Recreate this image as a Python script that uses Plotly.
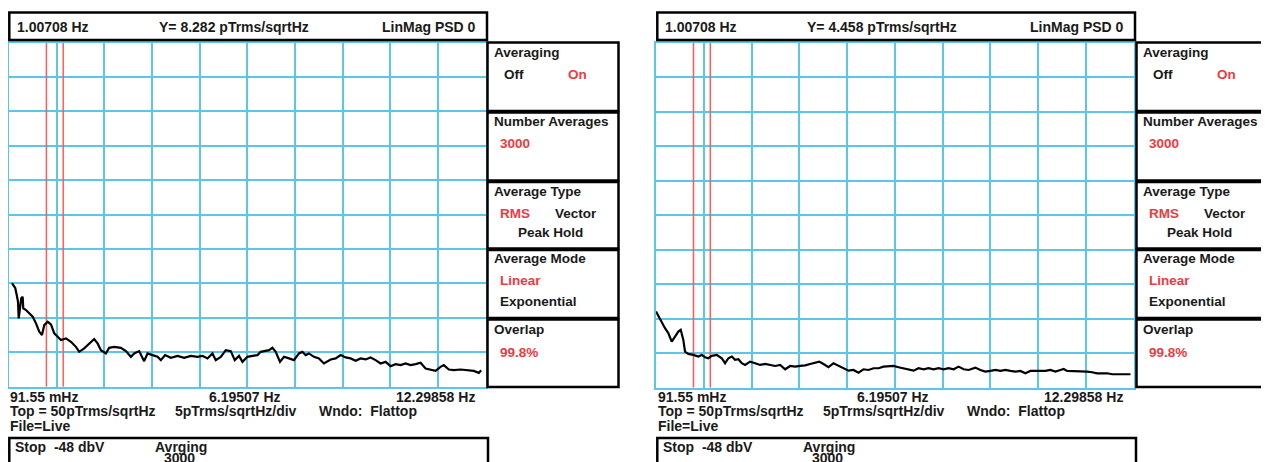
import plotly.graph_objects as go

# page has an 8px body margin: lay out in window pixels, shift by OFF
W, H = 1269, 462
OFF = 8
FW, FH = W - OFF, H - OFF

# ---------------- data ----------------
x_start_hz = 0.09155
x_stop_hz = 12.29858
y_top = 50.0
y_per_div = 5.0
n_xdiv = 10

left_freq_hz = [0.168, 0.202, 0.253, 0.289, 0.322, 0.340, 0.373, 0.406, 0.442, 0.457,
                0.527, 0.611, 0.698, 0.783, 0.867, 0.936, 0.995, 1.082, 1.166, 1.251,
                1.338, 1.422, 1.550, 1.678, 1.806, 1.891, 2.018, 2.146, 2.274, 2.361,
                2.446, 2.574, 2.658, 2.786, 2.958, 3.086, 3.214, 3.298, 3.426, 3.554,
                3.641, 3.769, 3.897, 3.981, 4.091, 4.237, 4.409, 4.578, 4.749, 4.920,
                5.048, 5.176, 5.304, 5.389, 5.517, 5.645, 5.773, 5.875, 5.985, 6.072,
                6.200, 6.328, 6.456, 6.540, 6.668, 6.753, 6.840, 6.924, 7.034, 7.136,
                7.265, 7.392, 7.520, 7.607, 7.692, 7.776, 7.904, 8.032, 8.160, 8.332,
                8.460, 8.588, 8.716, 8.843, 8.971, 9.099, 9.227, 9.355, 9.483, 9.611,
                9.739, 9.867, 9.995, 10.123, 10.251, 10.379, 10.507, 10.635, 10.763, 10.891,
                11.019, 11.147, 11.231, 11.359, 11.487, 11.658, 11.830, 11.999, 12.127, 12.188]
left_psd = [15.03, 14.78, 14.30, 13.32, 12.35, 9.93, 11.62, 12.84, 13.07, 11.39,
            11.14, 10.66, 10.16, 9.20, 7.98, 7.50, 8.95, 9.43, 9.06, 7.75,
            7.25, 6.77, 7.02, 6.52, 5.79, 5.07, 5.56, 6.29, 6.92, 6.29,
            5.31, 4.83, 5.65, 5.79, 5.65, 5.17, 4.34, 4.83, 5.17, 3.71,
            4.83, 4.59, 4.34, 3.86, 4.59, 4.19, 4.48, 4.19, 4.48, 4.34,
            4.48, 4.11, 4.83, 3.86, 4.34, 5.31, 5.17, 3.86, 4.48, 3.61,
            4.34, 4.48, 4.59, 5.07, 5.17, 5.31, 5.65, 5.07, 3.61, 4.34,
            4.11, 3.86, 4.83, 5.07, 4.59, 4.83, 4.34, 4.11, 3.38, 3.96,
            4.11, 4.59, 4.25, 4.11, 3.76, 4.11, 3.96, 4.25, 3.86, 3.38,
            3.61, 2.98, 3.28, 3.13, 3.38, 3.13, 3.28, 3.47, 2.65, 2.50,
            2.30, 2.88, 3.13, 2.50, 2.40, 2.50, 2.40, 2.30, 2.01, 2.40]

right_freq_hz = [0.092, 0.150, 0.237, 0.322, 0.406, 0.493, 0.578, 0.662, 0.724, 0.790,
                 0.834, 0.918, 1.046, 1.174, 1.261, 1.345, 1.430, 1.517, 1.645, 1.773,
                 1.857, 1.942, 2.029, 2.113, 2.198, 2.285, 2.369, 2.497, 2.625, 2.753,
                 2.881, 3.009, 3.137, 3.265, 3.393, 3.521, 3.649, 3.777, 3.905, 4.032,
                 4.160, 4.263, 4.373, 4.501, 4.629, 4.757, 4.885, 5.013, 5.141, 5.268,
                 5.396, 5.524, 5.652, 5.780, 5.908, 6.036, 6.164, 6.292, 6.420, 6.548,
                 6.676, 6.804, 6.932, 7.060, 7.188, 7.316, 7.444, 7.572, 7.700, 7.828,
                 7.955, 8.083, 8.255, 8.383, 8.511, 8.639, 8.767, 8.895, 9.023, 9.151,
                 9.279, 9.406, 9.534, 9.662, 9.790, 9.918, 10.046, 10.174, 10.302, 10.430,
                 10.514, 10.601, 10.729, 10.857, 10.985, 11.113, 11.241, 11.369, 11.497, 11.625,
                 11.753, 11.881, 12.008, 12.136, 12.221]
right_psd = [11.05, 10.42, 9.36, 8.63, 7.91, 6.69, 7.41, 8.14, 8.39, 6.93,
             5.23, 4.90, 4.75, 4.51, 4.75, 4.42, 4.27, 4.61, 4.75, 4.27,
             3.55, 4.27, 4.51, 4.03, 4.13, 3.55, 3.30, 3.78, 3.55, 3.30,
             3.44, 3.30, 3.15, 3.30, 2.67, 3.15, 3.05, 3.15, 3.23, 3.44,
             3.63, 3.78, 3.44, 2.97, 3.55, 3.15, 2.82, 2.47, 2.57, 2.18,
             2.67, 2.57, 2.82, 2.82, 3.05, 3.05, 3.15, 2.97, 2.82, 2.57,
             2.47, 2.82, 2.67, 2.82, 2.67, 2.82, 2.67, 2.82, 2.67, 3.05,
             2.67, 2.57, 2.91, 2.57, 2.33, 2.43, 2.57, 2.43, 2.57, 2.43,
             2.33, 2.43, 2.09, 2.43, 2.43, 2.33, 2.43, 2.57, 2.33, 2.57,
             2.72, 2.43, 2.43, 2.33, 2.43, 2.33, 2.24, 2.09, 2.09, 2.09,
             1.95, 1.95, 1.95, 1.85, 1.95]

marker_freq_hz = [1.05, 1.48]

header_left = ["1.00708 Hz", "1.00708 Hz"]
header_mid = ["Y= 8.282 pTrms/sqrtHz", "Y= 4.458 pTrms/sqrtHz"]
header_right = ["LinMag PSD 0", "LinMag PSD 0"]
x_tick_labels = ["91.55 mHz", "6.19507 Hz", "12.29858 Hz"]
scale_labels = ["Top = 50pTrms/sqrtHz", "5pTrms/sqrtHz/div", "Wndo:  Flattop"]
file_label = "File=Live"
status_labels = ["Stop  -48 dbV", "Avrging", "3000"]

# ---------------- style ----------------
GRID = "#5CC6E6"
RED = "#EE3A3F"
MARK = "#FF5A5A"
TXT = "#1a1a1a"
FONT = "Liberation Sans, Arial, sans-serif"


def px(x):
    return (x - OFF) / FW


def py(y):
    return 1 - (y - OFF) / FH


fig = go.Figure()

panels = [
    dict(xa="x", ya="y", x0=9, x1=485.5, y0=42.5, y1=386.7,
         f=left_freq_hz, v=left_psd, dx=0),
    dict(xa="x2", ya="y2", x0=656, x1=1133.5, y0=42.7, y1=387.7,
         f=right_freq_hz, v=right_psd, dx=648),
]

for i, p in enumerate(panels):
    for mf in marker_freq_hz:
        fig.add_trace(go.Scatter(x=[mf, mf], y=[0, y_top], mode="lines",
                                 line=dict(color=MARK, width=1.5),
                                 xaxis=p["xa"], yaxis=p["ya"], showlegend=False,
                                 hoverinfo="skip"))
    fig.add_trace(go.Scatter(x=p["f"], y=p["v"], mode="lines",
                             line=dict(color="black", width=2.2),
                             xaxis=p["xa"], yaxis=p["ya"], showlegend=False))

axis_common = dict(showgrid=True, gridcolor=GRID, gridwidth=2, zeroline=False,
                   showticklabels=False, ticks="", showline=True, mirror=True,
                   linecolor=GRID, linewidth=2, fixedrange=True)

dx_hz = (x_stop_hz - x_start_hz) / n_xdiv
for i, p in enumerate(panels):
    sfx = "" if i == 0 else "2"
    fig.update_layout(**{
        "xaxis" + sfx: dict(axis_common, domain=[px(p["x0"]), px(p["x1"])],
                            range=[x_start_hz, x_stop_hz], tick0=x_start_hz,
                            dtick=dx_hz, anchor="y" + sfx),
        "yaxis" + sfx: dict(axis_common, domain=[py(p["y1"]), py(p["y0"])],
                            range=[0, y_top], tick0=0, dtick=y_per_div,
                            anchor="x" + sfx),
    })

shapes = []
annotations = []


def rect(x0, y0, x1, y1, w=2.5):
    shapes.append(dict(type="rect", xref="paper", yref="paper",
                       x0=px(x0), x1=px(x1), y0=py(y1), y1=py(y0),
                       line=dict(color="black", width=w), fillcolor="rgba(0,0,0,0)"))


def text(x, y, s, size=14, color=TXT, anchor="left"):
    annotations.append(dict(xref="paper", yref="paper", x=px(x), y=py(y),
                            text="<b>" + s + "</b>", showarrow=False,
                            xanchor=anchor, yanchor="middle",
                            font=dict(family=FONT, size=size, color=color)))


for i in range(2):
    dx = panels[i]["dx"]
    # header box
    rect(9.3 + dx, 12.5, 487 + dx, 40)
    text(15 + dx, 26.5, header_left[i])
    text(157 + dx, 26.5, header_mid[i])
    text(478 + dx, 26.5, header_right[i], anchor="right")

    # side menu
    sx = 487.5 + dx + (1 if i else 0)
    rows = [(42.5, 111), (112.5, 180.5), (182, 248.5), (250, 318), (319.5, 387)]
    for (a, b) in rows:
        rect(sx, a, sx + 131, b)
    tx = sx + 4.5
    fs = 13.5
    text(tx, 52.5, "Averaging", fs)
    text(tx + 10, 74.5, "Off", fs)
    text(tx + 74, 74.5, "On", fs, RED)
    text(tx, 122, "Number Averages", fs)
    text(tx + 6, 143, "3000", fs, RED)
    text(tx, 191, "Average Type", fs)
    text(tx + 6, 213.5, "RMS", fs, RED)
    text(tx + 61, 213.5, "Vector", fs)
    text(tx + 24, 233, "Peak Hold", fs)
    text(tx, 259, "Average Mode", fs)
    text(tx + 6, 280.5, "Linear", fs, RED)
    text(tx + 6, 301.5, "Exponential", fs)
    text(tx, 329, "Overlap", fs)
    text(tx + 6, 352, "99.8%", fs, RED)

    # bottom labels
    text(8 + dx, 396.5, x_tick_labels[0])
    text(245 + dx, 396.5, x_tick_labels[1], anchor="center")
    text(477 + dx, 396.5, x_tick_labels[2], anchor="right")
    text(8 + dx, 411, scale_labels[0])
    text(173 + dx, 411, scale_labels[1])
    text(317 + dx, 411, scale_labels[2])
    text(8 + dx, 425.5, file_label)

    # status box
    rect(9.3 + dx, 438, 488 + dx, 475)
    text(13 + dx, 446.5, status_labels[0])
    text(153 + dx, 447, status_labels[1])
    text(179 + dx, 458, status_labels[2], anchor="center")

fig.update_layout(width=FW, height=FH, margin=dict(l=0, r=0, t=0, b=0),
                  paper_bgcolor="white", plot_bgcolor="white",
                  shapes=shapes, annotations=annotations, showlegend=False)

fig.write_html("out.html")
